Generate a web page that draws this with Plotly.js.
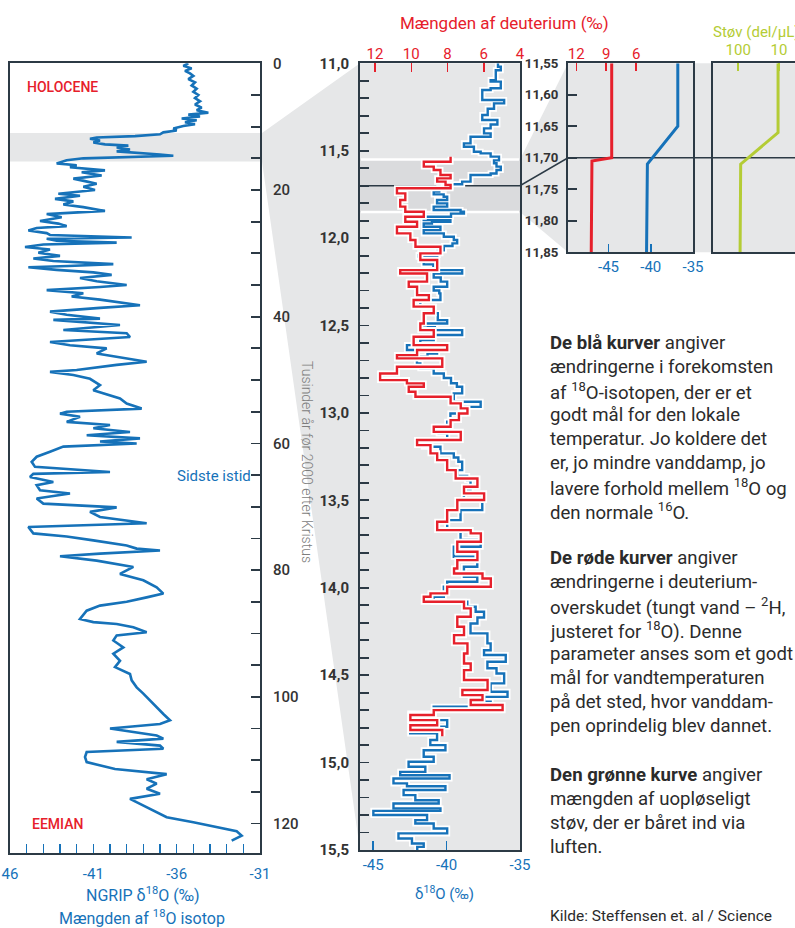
<!DOCTYPE html>
<html>
<head>
<meta charset="utf-8">
<script src="https://cdn.plot.ly/plotly-3.0.1.min.js"></script>
<style>
html,body{margin:0;padding:0;overflow:hidden;background:#fff;}
#chart{width:830px;height:928px;}
</style>
</head>
<body>
<div id="chart"></div>
<script>
// ---------------- DATA ----------------
// Panel 1: NGRIP δ18O vs age (kyr b2k)
const ngripAge = [0.0,0.4,0.8,1.2,1.6,2.0,2.5,3.0,3.5,4.0,4.5,5.0,5.5,6.0,6.5,7.0,7.4,7.8,8.1,8.4,8.7,9.0,9.3,9.6,9.9,10.3,10.6,10.9,11.2,11.5,11.7,11.9,12.2,12.5,12.8,13.0,13.3,13.6,13.9,14.1,14.4,14.6,14.8,15.0,15.3,15.8,16.1,16.4,16.9,17.2,17.7,18.2,18.6,19.0,19.5,20.0,20.6,20.9,21.4,21.8,22.3,22.7,23.3,23.6,23.8,24.3,24.9,25.3,25.7,26.0,26.4,26.8,27.1,27.5,27.7,28.0,28.3,28.6,29.0,29.4,29.9,30.4,30.8,31.2,31.7,32.0,32.2,32.6,33.0,33.4,33.9,34.4,35.0,35.3,35.8,36.3,36.8,37.3,37.9,38.2,38.6,39.2,39.7,40.3,40.5,41.3,42.1,42.6,43.2,43.6,44.0,44.5,45.0,45.8,46.6,47.1,47.6,48.4,48.7,49.2,49.8,50.8,51.6,52.1,52.9,53.7,54.5,55.0,55.3,55.8,56.6,57.1,57.6,58.2,58.7,59.2,59.7,60.0,60.5,61.3,62.1,62.9,63.7,64.5,64.8,65.3,66.1,66.6,67.4,67.9,68.7,69.5,70.1,70.8,71.6,72.6,73.2,74.2,74.7,75.3,76.1,76.6,76.9,77.4,77.8,78.5,79.2,79.5,80.6,81.6,82.7,83.7,84.3,85.0,85.6,86.4,87.7,88.2,88.5,89.0,89.8,90.3,91.1,92.2,93.2,94.3,95.3,96.4,97.4,98.5,99.5,100.6,101.6,102.7,103.7,104.3,105.0,105.6,106.1,106.6,107.1,107.7,108.2,108.7,109.5,110.3,110.8,111.4,112.2,113.0,113.7,114.5,115.3,116.1,116.9,117.7,118.5,119.0,119.8,120.6,121.2,121.9,122.7];
const ngripD18O = [-35.3,-35.6,-35.1,-35.5,-35.2,-35.0,-35.3,-34.9,-35.1,-34.8,-35.0,-34.7,-34.9,-34.6,-34.9,-34.5,-34.8,-34.1,-35.3,-34.6,-35.7,-34.8,-35.5,-34.9,-35.6,-36.2,-36.0,-36.8,-37.0,-38.5,-40.8,-41.2,-40.6,-41.0,-40.3,-38.9,-39.6,-38.8,-39.6,-38.3,-37.0,-36.2,-39.5,-41.6,-42.6,-43.2,-42.0,-42.4,-40.3,-41.7,-40.5,-42.2,-41.5,-40.8,-41.6,-40.9,-43.1,-41.8,-43.3,-42.2,-42.8,-41.6,-40.3,-42.6,-43.8,-42.9,-44.2,-43.1,-42.6,-44.4,-44.9,-43.8,-43.6,-38.7,-43.8,-43.2,-39.6,-44.0,-45.1,-43.6,-44.3,-43.0,-44.6,-43.4,-39.8,-42.5,-44.9,-43.2,-41.0,-39.9,-41.8,-40.8,-39.0,-40.6,-43.8,-41.6,-42.3,-40.6,-38.8,-38.2,-40.6,-43.6,-42.6,-40.6,-43.4,-39.4,-42.8,-39.0,-38.8,-41.2,-43.6,-42.4,-40.2,-40.8,-39.0,-37.8,-39.6,-42.0,-43.6,-42.2,-41.2,-40.6,-41.0,-40.4,-39.4,-39.0,-38.1,-42.6,-43.0,-41.8,-42.6,-40.0,-41.0,-38.8,-41.4,-38.2,-40.6,-38.4,-42.8,-43.6,-44.4,-44.7,-44.5,-40.0,-44.6,-44.8,-43.4,-44.4,-44.2,-42.4,-44.4,-44.0,-39.6,-41.2,-40.6,-37.8,-44.9,-44.6,-42.6,-41.0,-39.0,-38.4,-37.0,-40.6,-43.0,-40.8,-39.2,-38.6,-39.4,-38.0,-37.2,-36.8,-37.8,-39.0,-40.6,-41.4,-41.8,-41.0,-39.6,-38.6,-37.8,-39.6,-39.8,-39.2,-39.8,-39.4,-39.7,-38.8,-38.7,-38.4,-38.0,-37.6,-37.2,-36.8,-36.4,-37.0,-40.0,-38.6,-37.2,-36.8,-39.6,-37.0,-36.8,-41.4,-41.5,-41.4,-40.6,-39.7,-36.6,-37.8,-37.2,-37.8,-37.0,-38.8,-38.2,-37.6,-37.0,-36.6,-35.0,-33.4,-32.4,-32.1,-32.7];

// Panel 2: detail 11.0–15.5 kyr, δ18O (blue) and deuterium excess (red)
const detailAge = [11.0,11.02,11.04,11.096,11.105,11.143,11.153,11.21,11.229,11.26,11.296,11.324,11.35,11.372,11.401,11.42,11.458,11.477,11.506,11.515,11.534,11.555,11.572,11.591,11.61,11.63,11.639,11.677,11.692,11.706,11.715,11.734,11.75,11.763,11.782,11.801,11.82,11.839,11.849,11.86,11.878,11.897,11.906,11.916,11.935,11.954,11.973,11.992,12.011,12.03,12.045,12.07,12.097,12.106,12.125,12.15,12.183,12.202,12.225,12.249,12.278,12.3,12.316,12.354,12.392,12.43,12.469,12.488,12.51,12.526,12.554,12.583,12.612,12.64,12.66,12.678,12.717,12.745,12.774,12.8,12.83,12.85,12.888,12.936,12.965,13.003,13.05,13.079,13.117,13.155,13.193,13.231,13.255,13.279,13.327,13.36,13.384,13.441,13.498,13.556,13.613,13.67,13.727,13.765,13.823,13.88,13.937,13.966,13.994,14.051,14.08,14.109,14.137,14.17,14.204,14.261,14.318,14.357,14.385,14.423,14.46,14.49,14.547,14.595,14.624,14.652,14.681,14.719,14.757,14.795,14.833,14.871,14.9,14.929,14.967,14.995,15.024,15.053,15.072,15.091,15.119,15.135,15.157,15.186,15.215,15.234,15.262,15.276,15.3,15.329,15.348,15.377,15.405,15.434,15.463,15.482,15.5];
const detailD18O = [-36.5,-36.31,-36.65,-37.0,-36.31,-37.0,-37.57,-36.08,-36.77,-37.2,-37.57,-36.54,-37.0,-37.45,-37.0,-38.37,-38.82,-38.14,-37.68,-37.0,-36.43,-36.77,-36.6,-36.31,-36.6,-37.0,-38.37,-38.94,-39.74,-40.19,-40.5,-40.88,-40.2,-39.96,-40.65,-39.96,-40.88,-39.05,-38.82,-39.7,-41.56,-39.74,-41.0,-41.56,-40.42,-41.56,-40.19,-39.51,-39.28,-39.6,-40.19,-40.6,-41.91,-40.65,-41.56,-40.9,-38.94,-40.88,-40.4,-39.96,-40.88,-40.5,-40.42,-41.79,-40.88,-40.6,-39.96,-41.56,-40.8,-38.94,-40.88,-41.79,-42.7,-40.65,-41.3,-42.02,-41.79,-40.88,-40.19,-39.7,-39.3,-38.94,-39.51,-37.68,-38.82,-39.74,-39.96,-40.54,-39.96,-41.56,-40.42,-39.51,-39.2,-38.94,-39.28,-38.6,-38.37,-38.82,-37.57,-39.05,-39.96,-39.05,-37.68,-39.51,-37.91,-38.82,-37.91,-39.96,-40.19,-40.88,-38.59,-38.02,-37.45,-37.9,-38.37,-37.22,-37.0,-37.45,-35.97,-37.22,-36.6,-36.08,-37.0,-35.85,-37.45,-37.0,-40.88,-42.48,-39.96,-42.48,-40.65,-41.11,-40.08,-41.56,-40.88,-42.59,-41.45,-43.16,-39.8,-43.62,-42.7,-40.08,-42.93,-42.13,-40.54,-43.62,-40.42,-44.99,-41.33,-42.13,-40.88,-39.96,-43.28,-42.36,-41.56,-42.0,-42.0];
const dxsAge = [11.534,11.563,11.591,11.61,11.639,11.658,11.677,11.696,11.715,11.744,11.782,11.82,11.849,11.878,11.906,11.935,11.973,12.011,12.049,12.087,12.125,12.183,12.202,12.249,12.278,12.326,12.354,12.392,12.43,12.488,12.526,12.564,12.612,12.64,12.669,12.688,12.736,12.774,12.812,12.831,12.85,12.879,12.907,12.945,12.974,13.003,13.041,13.079,13.108,13.155,13.184,13.231,13.27,13.327,13.375,13.422,13.46,13.498,13.556,13.622,13.67,13.689,13.737,13.794,13.842,13.89,13.918,13.947,13.994,14.032,14.051,14.08,14.118,14.166,14.223,14.271,14.318,14.376,14.433,14.471,14.528,14.585,14.614,14.642,14.671,14.7,14.728,14.757,14.786,14.814,14.85];
const dxsVal = [7.83,9.31,8.76,8.39,7.83,8.57,8.11,7.83,10.79,10.33,10.61,10.33,9.31,10.33,9.68,10.79,10.05,9.77,8.39,9.5,8.57,10.61,9.13,10.14,9.68,9.03,9.87,8.76,9.31,9.5,8.76,9.87,8.02,9.68,10.79,8.29,10.79,11.72,10.24,9.31,10.14,9.77,7.83,7.27,6.9,7.37,7.83,8.76,7.27,9.68,8.94,8.57,8.02,7.55,6.35,7.09,5.98,7.46,8.02,8.57,6.72,6.16,7.46,6.35,7.46,7.64,6.07,5.61,8.02,8.94,9.31,7.09,6.72,7.46,7.09,7.64,6.9,7.09,6.72,7.09,5.79,7.18,6.07,6.72,4.96,8.76,10.05,8.57,10.05,8.29,8.29];

// Panel 3/4: 11.55–11.85 kyr zoom
const zoomAge = [11.55,11.65,11.71,11.85];
const zoomD18O = [-36.8,-36.8,-40.4,-40.5];
const zoomDxsAge = [11.55,11.70,11.705,11.85];
const zoomDxs = [8.45,8.45,10.43,10.5];
const dustAge = [11.55,11.66,11.71,11.85];
const dust = [10.5,10.5,87,90];

// Tick labels
const p1XVals = [-46,-41,-36,-31];
const p1XText = ['46','-41','-36','-31'];
const p1YVals = [0,20,40,60,80,100,120];
const p1YText = ['0','20','40','60','80','100','120'];
const p2YVals = [11.0,11.5,12.0,12.5,13.0,13.5,14.0,14.5,15.0,15.5];
const p2YText = ['11,0','11,5','12,0','12,5','13,0','13,5','14,0','14,5','15,0','15,5'];
const p2XVals = [-45,-40,-35];
const p2XText = ['-45','-40','-35'];
const p2DVals = [12,10,8,6,4];
const p2DText = ['12','10','8','6','4'];
const p3YVals = [11.55,11.60,11.65,11.70,11.75,11.80,11.85];
const p3YText = ['11,55','11,60','11,65','11,70','11,75','11,80','11,85'];
const p3XVals = [-45,-40,-35];
const p3XText = ['-45','-40','-35'];
const p3DVals = [12,9,6];
const p3DText = ['12','9','6'];
const dustVals = [100,10];
const dustText = ['100','10'];

// ---------------- LAYOUT ----------------
const W = 830, H = 928;
const fx = p => p / W;
const fy = p => 1 - p / H;
const BLUE = '#1672b9', RED = '#e6202b', GREEN = '#b4cc35', DARK = '#2c3a45', TXT = '#2b2b2b';
const GRAY = '#e6e7e8', GRAY2 = '#dadbdd';
const FONT = 'Roboto, "Open Sans", Arial, sans-serif';

// pixel geometry of panels
const P1 = {l:10, r:260, t:63.3, b:852.7, y0:0, y1:124.6};
const P2 = {l:360, r:520, t:63.3, b:850, y0:11.0, y1:15.5};
const P3 = {l:568, r:693, t:63.3, b:252.3, y0:11.55, y1:11.85};
const P4l = 713;
const ypx = (P, a) => P.t + (a - P.y0) / (P.y1 - P.y0) * (P.b - P.t);

const traces = [
  {x: ngripD18O, y: ngripAge, xaxis:'x', yaxis:'y', mode:'lines', line:{color:BLUE, width:2.6}, hoverinfo:'skip'},
  {x: detailD18O, y: detailAge, xaxis:'x2', yaxis:'y2', mode:'lines', line:{color:'#ffffff', width:6, shape:'vh'}, hoverinfo:'skip'},
  {x: detailD18O, y: detailAge, xaxis:'x2', yaxis:'y2', mode:'lines', line:{color:BLUE, width:2.4, shape:'vh'}, hoverinfo:'skip'},
  {x: dxsVal, y: dxsAge, xaxis:'x3', yaxis:'y2', mode:'lines', line:{color:'#ffffff', width:6, shape:'vh'}, hoverinfo:'skip'},
  {x: dxsVal, y: dxsAge, xaxis:'x3', yaxis:'y2', mode:'lines', line:{color:RED, width:2.4, shape:'vh'}, hoverinfo:'skip'},
  {x: zoomD18O, y: zoomAge, xaxis:'x4', yaxis:'y4', mode:'lines', line:{color:BLUE, width:3}, hoverinfo:'skip'},
  {x: zoomDxs, y: zoomDxsAge, xaxis:'x5', yaxis:'y4', mode:'lines', line:{color:RED, width:3}, hoverinfo:'skip'},
  {x: dust, y: dustAge, xaxis:'x6', yaxis:'y6', mode:'lines', line:{color:GREEN, width:3}, hoverinfo:'skip'}
];

const baseAx = {showgrid:false, zeroline:false, fixedrange:true, ticklabelstandoff:0};
const layout = {
  width: W, height: H,
  margin: {l:0, r:0, t:0, b:0},
  paper_bgcolor: '#ffffff', plot_bgcolor: 'rgba(0,0,0,0)',
  showlegend: false,
  font: {family: FONT, color: TXT},
  xaxis: Object.assign({}, baseAx, {domain:[fx(P1.l), fx(P1.r)], range:[-46,-31], anchor:'y',
    showline:true, mirror:true, linecolor:DARK, linewidth:2,
    ticks:'inside', ticklen:9, tickwidth:1.5, tickcolor:BLUE,
    tickmode:'array', tickvals:p1XVals, ticktext:p1XText,
    minor:{tickmode:'linear', tick0:-46, dtick:1, ticks:'inside', ticklen:9, tickwidth:1.5, tickcolor:BLUE, showgrid:false},
    tickfont:{color:BLUE, size:15, family:FONT}, ticklabelstandoff:6}),
  yaxis: Object.assign({}, baseAx, {domain:[fy(P1.b), fy(P1.t)], range:[P1.y1, P1.y0], anchor:'x', side:'right',
    showline:true, mirror:true, linecolor:DARK, linewidth:2,
    ticks:'inside', ticklen:9, tickwidth:1.8, tickcolor:DARK,
    tickmode:'array', tickvals:p1YVals, ticktext:p1YText,
    minor:{tickmode:'linear', tick0:0, dtick:5, ticks:'inside', ticklen:9, tickwidth:1.8, tickcolor:DARK, showgrid:false},
    tickfont:{color:'#333', size:15, family:FONT, weight:500}, ticklabelstandoff:8}),
  xaxis2: Object.assign({}, baseAx, {domain:[fx(P2.l), fx(P2.r)], range:[-45.9,-35], anchor:'y2',
    showline:true, mirror:true, linecolor:DARK, linewidth:2,
    ticks:'inside', ticklen:9, tickwidth:1.5, tickcolor:BLUE,
    tickmode:'array', tickvals:p2XVals, ticktext:p2XText,
    tickfont:{color:BLUE, size:15, family:FONT}}),
  xaxis3: Object.assign({}, baseAx, {overlaying:'x2', side:'top', anchor:'y2', range:[12.83, 4],
    showline:false, ticks:'inside', ticklen:9, tickwidth:1.5, tickcolor:RED,
    tickmode:'array', tickvals:p2DVals, ticktext:p2DText,
    tickfont:{color:RED, size:15, family:FONT}}),
  yaxis2: Object.assign({}, baseAx, {domain:[fy(P2.b), fy(P2.t)], range:[P2.y1, P2.y0], anchor:'x2', side:'left',
    showline:true, mirror:true, linecolor:DARK, linewidth:2,
    ticks:'inside', ticklen:9, tickwidth:1.8, tickcolor:DARK,
    tickmode:'array', tickvals:p2YVals, ticktext:p2YText,
    minor:{tickmode:'linear', tick0:11.0, dtick:0.1, ticks:'inside', ticklen:9, tickwidth:1.8, tickcolor:DARK, showgrid:false},
    tickfont:{color:'#333', size:15, family:FONT, weight:700}, ticklabelstandoff:6}),
  xaxis4: Object.assign({}, baseAx, {domain:[fx(P3.l), fx(P3.r)], range:[-49.8,-35], anchor:'y4',
    showline:true, mirror:true, linecolor:DARK, linewidth:2,
    ticks:'inside', ticklen:8, tickwidth:1.5, tickcolor:BLUE,
    tickmode:'array', tickvals:p3XVals, ticktext:p3XText,
    tickfont:{color:BLUE, size:15, family:FONT}}),
  xaxis5: Object.assign({}, baseAx, {overlaying:'x4', side:'top', anchor:'y4', range:[12.83, 0.3],
    showline:false, ticks:'inside', ticklen:8, tickwidth:1.5, tickcolor:RED,
    tickmode:'array', tickvals:p3DVals, ticktext:p3DText,
    tickfont:{color:RED, size:15, family:FONT}}),
  yaxis4: Object.assign({}, baseAx, {domain:[fy(P3.b), fy(P3.t)], range:[P3.y1, P3.y0], anchor:'x4', side:'left',
    showline:true, mirror:true, linecolor:DARK, linewidth:2,
    ticks:'inside', ticklen:9, tickwidth:1.8, tickcolor:DARK,
    tickmode:'array', tickvals:p3YVals, ticktext:p3YText,
    tickfont:{color:'#333', size:13.2, family:FONT, weight:700}, ticklabelstandoff:5}),
  xaxis6: Object.assign({}, baseAx, {domain:[fx(P4l), 1], type:'log', range:[2.62, -0.255], anchor:'y6', side:'top',
    showline:true, mirror:true, linecolor:DARK, linewidth:2,
    ticks:'inside', ticklen:8, tickwidth:1.5, tickcolor:GREEN,
    tickmode:'array', tickvals:dustVals, ticktext:dustText,
    tickfont:{color:GREEN, size:15, family:FONT}}),
  yaxis6: Object.assign({}, baseAx, {domain:[fy(P3.b), fy(P3.t)], range:[P3.y1, P3.y0], anchor:'x6',
    showline:true, mirror:true, linecolor:DARK, linewidth:2, ticks:'', showticklabels:false})
};

// decorative shapes (paper coordinates from panel geometry)
const bandTop = ypx(P1, P2.y0), bandBot = ypx(P1, P2.y1);
const z1 = ypx(P2, P3.y0), z2 = ypx(P2, P3.y1);
const pth = pts => 'M' + pts.map(p => fx(p[0]).toFixed(5) + ',' + fy(p[1]).toFixed(5)).join(' L') + ' Z';
const line70_2 = ypx(P2, 11.70), line70_3 = ypx(P3, 11.70);
layout.shapes = [
  {type:'path', xref:'paper', yref:'paper', layer:'below', line:{width:0}, fillcolor:GRAY,
   path: pth([[P1.l, bandTop],[262, bandTop],[P2.l, P2.t],[P2.l, P2.b],[262, bandBot],[P1.l, bandBot]])},
  {type:'rect', xref:'paper', yref:'paper', layer:'below', line:{width:0}, fillcolor:GRAY,
   x0:fx(P2.l), x1:fx(P2.r), y0:fy(P2.b), y1:fy(P2.t)},
  {type:'rect', xref:'paper', yref:'paper', layer:'below', line:{width:0}, fillcolor:GRAY2,
   x0:fx(P2.l), x1:fx(P2.r), y0:fy(z2), y1:fy(z1)},
  {type:'path', xref:'paper', yref:'paper', layer:'below', line:{width:0}, fillcolor:GRAY,
   path: pth([[P2.r, z1],[P3.l, P3.t],[P3.l, P3.b],[P2.r, z2]])},
  {type:'rect', xref:'paper', yref:'paper', layer:'below', line:{width:0}, fillcolor:GRAY,
   x0:fx(P3.l), x1:1, y0:fy(P3.b), y1:fy(P3.t)},
  {type:'line', xref:'paper', yref:'paper', layer:'below', line:{color:'#ffffff', width:2.5},
   x0:fx(P2.l+1), x1:fx(P2.r-1), y0:fy(z1), y1:fy(z1)},
  {type:'line', xref:'paper', yref:'paper', layer:'below', line:{color:'#ffffff', width:2.5},
   x0:fx(P2.l+1), x1:fx(P2.r-1), y0:fy(z2), y1:fy(z2)},
  {type:'path', xref:'paper', yref:'paper', layer:'below', line:{color:DARK, width:1.6},
   path: 'M' + fx(P2.l) + ',' + fy(line70_2) + ' L' + fx(P2.r) + ',' + fy(line70_2) + ' L' + fx(P3.l) + ',' + fy(line70_3) + ' L1,' + fy(line70_3)}
];

// annotations
const ann = (px, py, text, opts) => Object.assign({xref:'paper', yref:'paper', x:fx(px), y:fy(py), text:text,
  showarrow:false, xanchor:'left', yanchor:'middle', font:{family:FONT, size:18.6, color:TXT}}, opts || {});
const annotations = [
  ann(504, 23, 'Mængden af deuterium (‰)', {xanchor:'center', font:{family:FONT, size:17, color:RED}}),
  ann(711, 32, 'Støv (del/µL)', {font:{family:FONT, size:15, color:GREEN}}),
  ann(25, 87, 'HOLOCENE', {font:{family:FONT, size:14, color:RED, weight:500}}),
  ann(30, 824, 'EEMIAN', {font:{family:FONT, size:14, color:RED, weight:500}}),
  ann(175, 476, 'Sidste istid', {font:{family:FONT, size:15, color:BLUE}}),
  ann(307, 462, 'Tusinder år før 2000 efter Kristus', {xanchor:'center', textangle:90, font:{family:FONT, size:14, color:'#7d7d7d', weight:300}}),
  ann(143, 894, 'NGRIP δ<sup>18</sup>O (‰)', {xanchor:'center', font:{family:FONT, size:16, color:BLUE}}),
  ann(142, 917, 'Mængden af <sup>18</sup>O isotop', {xanchor:'center', font:{family:FONT, size:16, color:BLUE}}),
  ann(444, 893, 'δ<sup>18</sup>O (‰)', {xanchor:'center', font:{family:FONT, size:15, color:BLUE}}),
  ann(548, 916, 'Kilde: Steffensen et. al / Science', {font:{family:FONT, size:15.5, color:TXT}})
];
const block1 = ['<b>De blå kurver</b> angiver','ændringerne i forekomsten','af <sup>18</sup>O-isotopen, der er et','godt mål for den lokale','temperatur. Jo koldere det','er, jo mindre vanddamp, jo','lavere forhold mellem <sup>18</sup>O og','den normale <sup>16</sup>O.'];
const block2 = ['<b>De røde kurver</b> angiver','ændringerne i deuterium-','overskudet (tungt vand – <sup>2</sup>H,','justeret for <sup>18</sup>O). Denne','parameter anses som et godt','mål for vandtemperaturen','på det sted, hvor vanddam-','pen oprindelig blev dannet.'];
const block3 = ['<b>Den grønne kurve</b> angiver','mængden af uopløseligt','støv, der er båret ind via','luften.'];
block1.forEach((t,i) => annotations.push(ann(548, 343 + i*24, t)));
block2.forEach((t,i) => annotations.push(ann(548, 558 + i*24, t)));
block3.forEach((t,i) => annotations.push(ann(548, 775 + i*24, t)));
layout.annotations = annotations;

Plotly.newPlot('chart', traces, layout, {displayModeBar:false, staticPlot:true});
</script>
</body>
</html>
